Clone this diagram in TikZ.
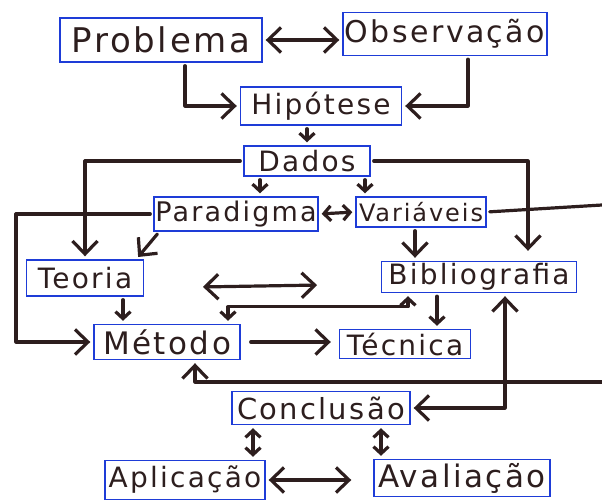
\documentclass[tikz,border=0pt]{standalone}
\usepackage{fontspec}
\setmainfont{DejaVu Sans}[LetterSpace=8]
\usetikzlibrary{arrows.meta}
\definecolor{caneta}{RGB}{30,60,215}
\definecolor{tinta}{RGB}{45,30,30}
\begin{document}
\begin{tikzpicture}[x=1pt,y=-1pt,
  caixa/.style={draw=caneta,line width=1.4pt,inner sep=0pt,text=tinta},
  tam/.style={font=\fontsize{#1}{#1}\selectfont},
  linha/.style={draw=tinta,line width=3.2pt,line cap=round,line join=round,
    shorten >=3pt,shorten <=3pt},
  seta/.style={linha,arrows={-Straight Barb[length=13pt,width=25pt]}},
  dupla/.style={linha,arrows={Straight Barb[length=13pt,width=25pt]-Straight Barb[length=13pt,width=25pt]}},
  setinha/.style={linha,arrows={-Straight Barb[length=7pt,width=15pt]}},
  duplinha/.style={linha,arrows={Straight Barb[length=7pt,width=15pt]-Straight Barb[length=7pt,width=15pt]}}]
\useasboundingbox (0,0) rectangle (602,500);
% caixas
\node[caixa,tam=34,minimum width=202pt,minimum height=44pt] (problema) at (161,40) {Problema};
\node[caixa,tam=30,minimum width=204pt,minimum height=43pt] (observacao) at (445,34) {Observação};
\node[caixa,tam=28,minimum width=161pt,minimum height=38pt] (hipotese) at (321,106) {Hipótese};
\node[caixa,tam=28,minimum width=126pt,minimum height=30pt] (dados) at (307,161) {Dados};
\node[caixa,tam=27,minimum width=164pt,minimum height=34pt] (paradigma) at (236,214) {Paradigma};
\node[caixa,tam=24,minimum width=130pt,minimum height=30pt] (variaveis) at (421,212) {Variáveis};
\node[caixa,tam=28,minimum width=117pt,minimum height=36pt] (teoria) at (85,278) {Teoria};
\node[caixa,tam=28,minimum width=195pt,minimum height=31pt] (bibliografia) at (479,277) {Bibliografia};
\node[caixa,tam=31,minimum width=146pt,minimum height=35pt] (metodo) at (167,342) {Método};
\node[caixa,tam=28,minimum width=131pt,minimum height=29pt] (tecnica) at (405,344) {Técnica};
\node[caixa,tam=29,minimum width=178pt,minimum height=33pt] (conclusao) at (321,408) {Conclusão};
\node[caixa,tam=28,minimum width=160pt,minimum height=39pt] (aplicacao) at (185,480) {Aplicação};
\node[caixa,tam=31,minimum width=176pt,minimum height=37pt] (avaliacao) at (462,478) {Avaliação};
% pontas soltas
\coordinate (esq) at (16,208);
\coordinate (saida) at (602,205);
\coordinate (entrada) at (602,382);
\coordinate (livreA) at (200,287);
\coordinate (livreB) at (320,285);
% setas
\draw[dupla] (problema.east) -- (problema.east -| observacao.west);
\draw[seta] ([xshift=24pt]problema.south) |- (hipotese.west);
\draw[seta] ([xshift=23pt]observacao.south) |- (hipotese.east);
\draw[setinha] (hipotese.south -| dados.north) -- (dados.north);
\draw[seta] (dados.west) -| (teoria.north);
\draw[seta,shorten >=10pt] (dados.east) -| ([xshift=49pt]bibliografia.north);
\draw[setinha] ([xshift=-47pt]dados.south) -- ([xshift=24pt]paradigma.north);
\draw[setinha] ([xshift=58pt]dados.south) -- ([xshift=-56pt]variaveis.north);
\draw[duplinha] (paradigma.east) -- (variaveis.west);
\draw[seta] (paradigma.west) -- (paradigma.west -| esq) |- (metodo.west);
\draw[seta] ([xshift=6pt]paradigma.south west) -- ([xshift=-8pt]teoria.north east);
\draw[linha,shorten >=0pt] (variaveis.east) -- (saida);
\draw[seta] ([xshift=-6pt]variaveis.south) -- ([xshift=-64pt]bibliografia.north);
\draw[setinha] ([xshift=38pt]teoria.south) -- ([xshift=-44pt]metodo.north);
\draw[dupla] (livreA) -- (livreB);
\draw[duplinha] ([xshift=61pt]metodo.north) -- ++(0,-17) -| ([xshift=-71pt]bibliografia.south);
\draw[setinha] ([xshift=-42pt]bibliografia.south) -- ([xshift=32pt]tecnica.north);
\draw[seta,shorten <=10pt,shorten >=8pt] (metodo.east) -- (metodo.east -| tecnica.west);
\draw[dupla] ([xshift=26pt]bibliografia.south) |- (conclusao.east);
\draw[seta,shorten <=0pt] (entrada) -| ([xshift=28pt]metodo.south);
\draw[duplinha] ([xshift=-68pt]conclusao.south) -- ([xshift=68pt]aplicacao.north);
\draw[duplinha] ([xshift=60pt]conclusao.south) -- ([xshift=-81pt]avaliacao.north);
\draw[dupla,shorten >=22pt] (aplicacao.east) -- (aplicacao.east -| avaliacao.west);
\end{tikzpicture}
\end{document}
